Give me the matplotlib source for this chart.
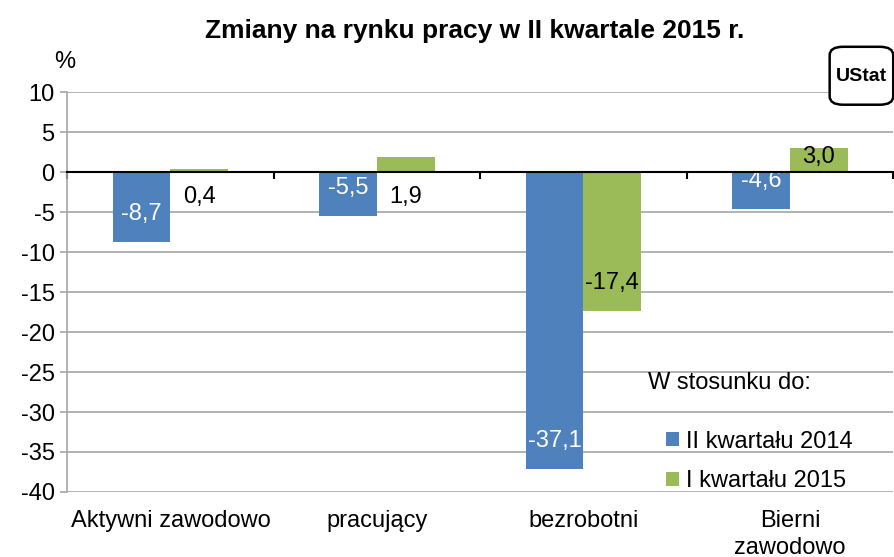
import numpy as np
import matplotlib.pyplot as plt
from matplotlib.patches import FancyBboxPatch

plt.rcParams['font.family'] = ['Liberation Sans', 'DejaVu Sans']

categories = ['Aktywni zawodowo', 'pracujący', 'bezrobotni', 'Bierni\nzawodowo']
vs_2014 = [-8.7, -5.5, -37.1, -4.6]
vs_2015 = [0.4, 1.9, -17.4, 3.0]
series_names = ['II kwartału 2014', 'I kwartału 2015']
yticks = [10, 5, 0, -5, -10, -15, -20, -25, -30, -35, -40]

blue = '#4F81BD'
green = '#9BBB59'
grid_col = '#A6A6A6'
fs = 17


def fmt(v):
    return ('%.1f' % v).replace('.', ',')


def label_y(v):
    # mimic Excel "inside end" placement
    if v < 0:
        return v + 3.5
    if v > 2.5:
        return v - 1.1
    return -3.1


fig = plt.figure(figsize=(8.95, 5.57), dpi=100)
ax = fig.add_axes([0.075, 0.1167, 0.923, 0.7181])

x = np.arange(len(categories))
w = 0.28
b1 = ax.bar(x - w / 2, vs_2014, w, color=blue, label=series_names[0], zorder=3)
b2 = ax.bar(x + w / 2, vs_2015, w, color=green, label=series_names[1], zorder=3)

for xi, v in zip(x - w / 2, vs_2014):
    ax.text(xi, label_y(v), fmt(v), ha='center', va='center', color='white',
            fontsize=fs, zorder=4)
for xi, v in zip(x + w / 2, vs_2015):
    ax.text(xi, label_y(v), fmt(v), ha='center', va='center', color='black',
            fontsize=fs, zorder=4)

ax.set_xlim(-0.5, len(categories) - 0.5)
ax.set_ylim(-40, 10)
ax.set_yticks(yticks)
ax.set_yticklabels([str(t) for t in yticks], fontsize=fs)
ax.yaxis.grid(True, color=grid_col, linewidth=1.2, zorder=0)
ax.tick_params(axis='y', length=5, color=grid_col, width=1.2, pad=4)

for s in ['top', 'right']:
    ax.spines[s].set_visible(False)
ax.spines['left'].set_color(grid_col)
ax.spines['left'].set_linewidth(1.2)

# category axis crosses at zero
ax.spines['bottom'].set_position(('data', 0))
ax.spines['bottom'].set_color('black')
ax.spines['bottom'].set_linewidth(1.5)
ax.spines['bottom'].set_zorder(5)
ax.set_xticks(x)
ax.set_xticklabels([])
ax.tick_params(axis='x', which='major', length=0)
ax.set_xticks(np.arange(len(categories) + 1) - 0.5, minor=True)
ax.tick_params(axis='x', which='minor', length=5, width=1.5, color='black', direction='out')

for xi, c in zip(x, categories):
    ax.text(xi, -42.3, c, ha='center', va='top', fontsize=fs,
            linespacing=1.25, transform=ax.transData)

# legend: title as its own text, entries below it
fig.text(0.724, 0.312, 'W stosunku do:', ha='left', va='center', fontsize=fs)
ax.legend(handles=[b1, b2], frameon=False,
          loc='lower left', bbox_to_anchor=(0.702, -0.048), fontsize=fs,
          handlelength=0.55, handleheight=0.55,
          handletextpad=0.3, labelspacing=0.75, borderpad=0.3)

fig.text(0.53, 0.945, 'Zmiany na rynku pracy w II kwartale 2015 r.',
         ha='center', va='center', fontsize=19, fontweight='bold')
fig.text(0.072, 0.888, '%', ha='center', va='center', fontsize=fs)

# logo
fig.patches.append(FancyBboxPatch((0.93, 0.815), 0.065, 0.098,
                                  boxstyle='round,pad=0.003,rounding_size=0.015',
                                  transform=fig.transFigure, fc='white',
                                  ec='black', lw=1.8, zorder=5))
fig.text(0.9625, 0.862, 'UStat', ha='center', va='center', fontsize=14,
         fontweight='bold', zorder=6)

fig.savefig('out.png', dpi=100)
